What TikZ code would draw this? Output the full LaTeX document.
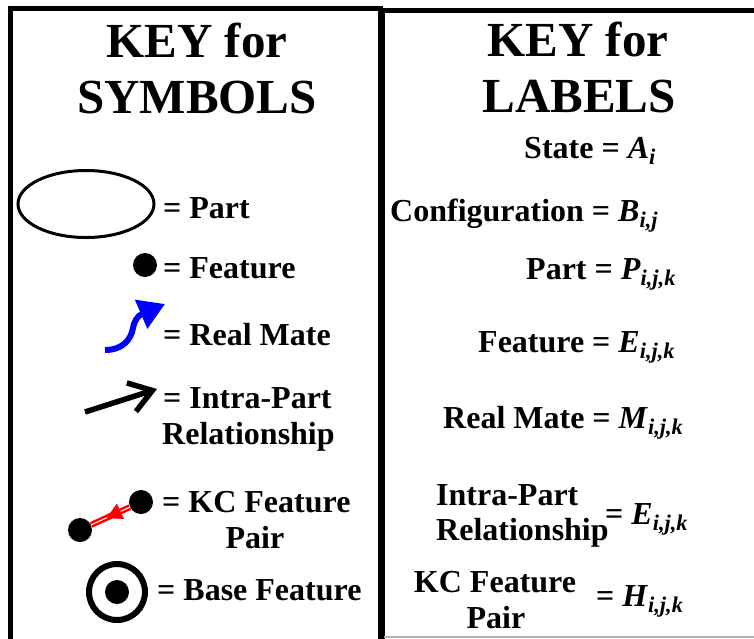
\documentclass[tikz,border=0pt]{standalone}
\usepackage{fontspec}
\setmainfont{Liberation Serif}
\usetikzlibrary{arrows.meta,calc,shapes.geometric}
\newcommand{\lb}[2]{\textit{#1}\textsubscript{\textit{#2}}}
\begin{document}
\begin{tikzpicture}[x=1pt,y=1pt,
  title/.style={font=\fontsize{49}{55}\selectfont\bfseries, inner sep=0, anchor=base},
  txt/.style={font=\fontsize{32}{36}\selectfont\bfseries, inner sep=0, anchor=base west},
  txtc/.style={txt, anchor=base},
  frame/.style={line width=5pt},
  dot/.style={circle, fill=black, inner sep=0, minimum size=24pt}]
\useasboundingbox (0,0) rectangle (754,-638);
\begin{scope}
\clip (0,0) rectangle (754,-638);
% frames
\draw[frame] (10.5,-650) -- (10.5,-8.5) -- (380.5,-8.5) -- (380.5,-650);
\draw[frame] (382,-650) -- (382,-10) -- (770,-10);
\draw[gray!60, line width=1.5pt] (384,-637) -- (760,-637);
\end{scope}
% titles
\node[title] (t1a) at (197,-57) {KEY for};
\node[title] (t1b) at (197,-113) {SYMBOLS};
\node[title] (t2a) at (578,-56) {KEY for};
\node[title] (t2b) at (579,-112) {LABELS};
% part
\node[draw, ellipse, line width=3pt, minimum width=136pt, minimum height=67pt, inner sep=0] (part) at (86,-204) {};
\node[txt] (lpart) at (163,-218) {= Part};
% feature
\node[dot] (feat) at (145,-265) {};
\node[txt] (lfeat) at (163,-278) {= Feature};
% real mate
\coordinate (rm0) at (105,-350);
\coordinate (rm1) at (165,-304);
\draw[blue, line width=6pt, -{Triangle[length=26pt,width=30pt]}] (rm0) .. controls (122,-350) and (131,-340) .. (133,-328) .. controls (134,-322) and (137,-316) .. (rm1);
\node[txt] (lrm) at (163,-345) {= Real Mate};
% intra-part
\coordinate (ip0) at (85,-412);
\coordinate (ip1) at (157,-389);
\draw[line width=5.5pt, -{Straight Barb[length=22pt,width=30pt]}] (ip0) -- (ip1);
\node[txt] (lip1) at (163,-408) {= Intra-Part};
\node[txt] (lip2) at (162,-444) {Relationship};
% KC feature pair
\node[dot] (k1) at (141,-502) {};
\node[dot] (k2) at (80,-530) {};
\draw[red, line width=2.5pt, double=white, double distance=1pt] (k1) -- (k2);
\draw[red, line width=0.5pt, -{Triangle[length=15pt,width=17pt]}] ($(k1)!0.42!(k2)$) -- ($(k1)!0.56!(k2)$);
\node[txt] (lkc1) at (162,-512) {= KC Feature};
\node[txtc] (lkc2) at (255,-548) {Pair};
% base feature
\node[circle, draw, line width=6pt, minimum size=56pt, inner sep=0] (bf) at (117,-592) {};
\node[dot] (bfd) at (bf.center) {};
\node[txt] (lbf) at (157,-600) {= Base Feature};
% labels key
\node[txt] (r1) at (524,-158) {State = \lb{A}{i}};
\node[txt] (r2) at (390,-221) {Configuration = \lb{B}{i,j}};
\node[txt] (r3) at (526,-279) {Part = \lb{P}{i,j,k}};
\node[txt] (r4) at (478,-352) {Feature = \lb{E}{i,j,k}};
\node[txt] (r5) at (443,-428) {Real Mate = \lb{M}{i,j,k}};
\node[txt] (r6a) at (436,-505) {Intra-Part};
\node[txt] (r6b) at (436,-540) {Relationship};
\node[txt] (r6c) at (605,-524) {= \lb{E}{i,j,k}};
\node[txtc] (r7a) at (495,-592) {KC Feature};
\node[txtc] (r7b) at (496,-628) {Pair};
\node[txt] (r7c) at (596,-606) {= \lb{H}{i,j,k}};
\end{tikzpicture}
\end{document}
